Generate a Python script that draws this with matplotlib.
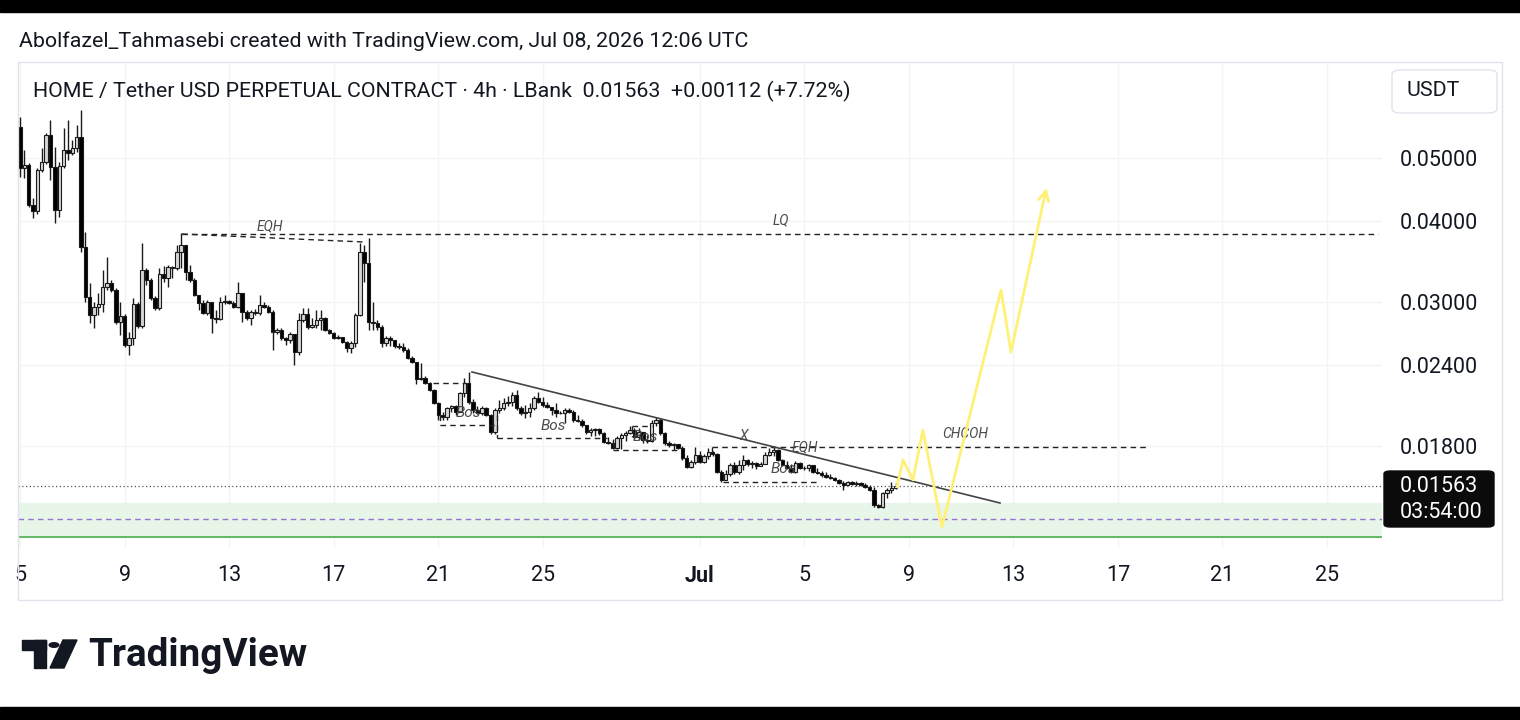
import numpy as np
import matplotlib
matplotlib.use("Agg")
import matplotlib.pyplot as plt
from matplotlib.patches import Rectangle, FancyBboxPatch, Circle, Polygon
from matplotlib.ticker import NullLocator

plt.rcParams['font.family'] = ['Roboto', 'DejaVu Sans']

# ---- data: 4h candles, HOME/USDT perp, starting Jun 5 00:00 ----
first_open = 0.05581
closes = [
    0.04826, 0.04878, 0.04234, 0.04145, 0.04792, 0.04930, 0.05425, 0.04843, 0.04159, 0.04860,
    0.05143, 0.05089, 0.05180, 0.05386, 0.03649, 0.03057, 0.02868, 0.02950, 0.02982, 0.03166,
    0.03212, 0.03133, 0.02798, 0.02858, 0.02578, 0.02643, 0.02982, 0.02759, 0.03363, 0.03246,
    0.03046, 0.02940, 0.03316, 0.03269, 0.03399, 0.03387, 0.03585, 0.03675, 0.03339, 0.03246,
    0.03078, 0.02993, 0.02888, 0.03000, 0.02838, 0.02828, 0.03000, 0.03014, 0.02993, 0.02950,
    0.03100, 0.02899, 0.02838, 0.02899, 0.02888, 0.02971, 0.02950, 0.02899, 0.02700, 0.02720,
    0.02643, 0.02624, 0.02681, 0.02515, 0.02818, 0.02878, 0.02749, 0.02768, 0.02818, 0.02838,
    0.02720, 0.02691, 0.02643, 0.02652, 0.02606, 0.02551, 0.02597, 0.02868, 0.03585, 0.03447,
    0.02798, 0.02788, 0.02749, 0.02597, 0.02643, 0.02624, 0.02569, 0.02560, 0.02533, 0.02463,
    0.02428, 0.02286, 0.02294, 0.02254, 0.02198, 0.02099, 0.02012, 0.01998, 0.02063, 0.02078,
    0.02034, 0.02175, 0.02254, 0.02107, 0.02048, 0.02027, 0.02063, 0.02012, 0.01895, 0.02048,
    0.02063, 0.02099, 0.02107, 0.02160, 0.02063, 0.02027, 0.02034, 0.02063, 0.02137, 0.02107,
    0.02085, 0.02070, 0.02048, 0.02027, 0.02027, 0.02048, 0.02034, 0.01977, 0.01970, 0.01942,
    0.01895, 0.01908, 0.01915, 0.01888, 0.01829, 0.01822, 0.01791, 0.01855, 0.01875, 0.01888,
    0.01908, 0.01862, 0.01895, 0.01842, 0.01835, 0.01956, 0.01977, 0.01888, 0.01822, 0.01809,
    0.01816, 0.01791, 0.01728, 0.01674, 0.01704, 0.01747, 0.01704, 0.01741, 0.01766, 0.01753,
    0.01644, 0.01599, 0.01632, 0.01686, 0.01644, 0.01686, 0.01716, 0.01692, 0.01698, 0.01680,
    0.01692, 0.01747, 0.01766, 0.01778, 0.01716, 0.01686, 0.01668, 0.01644, 0.01698, 0.01668,
    0.01668, 0.01686, 0.01644, 0.01638, 0.01627, 0.01615, 0.01610, 0.01599, 0.01582, 0.01571,
    0.01588, 0.01576, 0.01582, 0.01571, 0.01560, 0.01543, 0.01463, 0.01453, 0.01527, 0.01543,
    0.01554, 0.01563,
]
highs = [
    0.05781, 0.05143, 0.04912, 0.04340, 0.04826, 0.05180, 0.05463, 0.05720, 0.05198, 0.04930,
    0.05561, 0.05720, 0.05329, 0.05620, 0.05927, 0.03847, 0.03212, 0.03000, 0.03100, 0.03363,
    0.03521, 0.03246, 0.03155, 0.03000, 0.02878, 0.02700, 0.03046, 0.03000, 0.03701, 0.03387,
    0.03269, 0.03067, 0.03387, 0.03411, 0.03423, 0.03411, 0.03675, 0.03833, 0.03675, 0.03423,
    0.03269, 0.03078, 0.03024, 0.03024, 0.03000, 0.02919, 0.03057, 0.03078, 0.03024, 0.03014,
    0.03223, 0.03100, 0.02919, 0.02919, 0.02930, 0.03078, 0.03000, 0.02971, 0.02919, 0.02739,
    0.02739, 0.02652, 0.02700, 0.02681, 0.02888, 0.02940, 0.02940, 0.02838, 0.02919, 0.02919,
    0.02848, 0.02729, 0.02700, 0.02672, 0.02652, 0.02615, 0.02615, 0.02888, 0.03701, 0.03675,
    0.03767, 0.03000, 0.02818, 0.02768, 0.02662, 0.02662, 0.02624, 0.02597, 0.02597, 0.02551,
    0.02480, 0.02428, 0.02419, 0.02310, 0.02262, 0.02206, 0.02107, 0.02034, 0.02070, 0.02085,
    0.02085, 0.02183, 0.02294, 0.02343, 0.02129, 0.02078, 0.02078, 0.02070, 0.02019, 0.02063,
    0.02122, 0.02137, 0.02152, 0.02183, 0.02198, 0.02078, 0.02085, 0.02099, 0.02152, 0.02183,
    0.02145, 0.02107, 0.02070, 0.02099, 0.02041, 0.02063, 0.02063, 0.02048, 0.02012, 0.01984,
    0.01942, 0.01922, 0.01922, 0.01922, 0.01895, 0.01862, 0.01848, 0.01868, 0.01888, 0.01902,
    0.01936, 0.01922, 0.01922, 0.01868, 0.01875, 0.01977, 0.01998, 0.01991, 0.01895, 0.01835,
    0.01822, 0.01816, 0.01803, 0.01747, 0.01716, 0.01797, 0.01772, 0.01753, 0.01791, 0.01772,
    0.01759, 0.01656, 0.01656, 0.01698, 0.01704, 0.01716, 0.01747, 0.01722, 0.01710, 0.01704,
    0.01704, 0.01766, 0.01791, 0.01803, 0.01785, 0.01722, 0.01710, 0.01692, 0.01710, 0.01704,
    0.01680, 0.01692, 0.01686, 0.01668, 0.01650, 0.01644, 0.01632, 0.01615, 0.01604, 0.01593,
    0.01593, 0.01593, 0.01593, 0.01588, 0.01582, 0.01571, 0.01560, 0.01468, 0.01532, 0.01554,
    0.01588, 0.01582,
]
lows = [
    0.04675, 0.04658, 0.04204, 0.04043, 0.04101, 0.04758, 0.04895, 0.04625, 0.03972, 0.04058,
    0.04826, 0.04965, 0.05053, 0.05107, 0.03585, 0.03000, 0.02788, 0.02739, 0.02868, 0.02899,
    0.03133, 0.03111, 0.02778, 0.02672, 0.02560, 0.02488, 0.02578, 0.02739, 0.02739, 0.03189,
    0.03024, 0.02919, 0.02919, 0.03223, 0.03166, 0.03269, 0.03363, 0.03387, 0.03246, 0.03223,
    0.03067, 0.02919, 0.02878, 0.02868, 0.02691, 0.02788, 0.02818, 0.02982, 0.02982, 0.02940,
    0.02940, 0.02798, 0.02818, 0.02768, 0.02868, 0.02868, 0.02940, 0.02888, 0.02533, 0.02681,
    0.02624, 0.02578, 0.02597, 0.02402, 0.02488, 0.02798, 0.02729, 0.02739, 0.02739, 0.02720,
    0.02710, 0.02681, 0.02634, 0.02634, 0.02597, 0.02515, 0.02506, 0.02560, 0.02858, 0.03223,
    0.02720, 0.02720, 0.02720, 0.02560, 0.02569, 0.02569, 0.02551, 0.02542, 0.02515, 0.02454,
    0.02419, 0.02246, 0.02278, 0.02246, 0.02190, 0.02092, 0.01977, 0.01977, 0.01977, 0.02034,
    0.02012, 0.02034, 0.02145, 0.02092, 0.02027, 0.02019, 0.02012, 0.02005, 0.01881, 0.01881,
    0.02027, 0.02048, 0.02078, 0.02078, 0.02048, 0.02012, 0.01991, 0.01998, 0.02048, 0.02099,
    0.02070, 0.02063, 0.02012, 0.01998, 0.02019, 0.01956, 0.02027, 0.01963, 0.01963, 0.01929,
    0.01881, 0.01868, 0.01868, 0.01875, 0.01822, 0.01816, 0.01785, 0.01785, 0.01785, 0.01835,
    0.01881, 0.01848, 0.01842, 0.01822, 0.01822, 0.01829, 0.01936, 0.01875, 0.01809, 0.01797,
    0.01778, 0.01785, 0.01716, 0.01668, 0.01668, 0.01692, 0.01698, 0.01698, 0.01722, 0.01741,
    0.01638, 0.01588, 0.01599, 0.01621, 0.01632, 0.01632, 0.01656, 0.01680, 0.01668, 0.01662,
    0.01680, 0.01704, 0.01741, 0.01741, 0.01710, 0.01680, 0.01662, 0.01638, 0.01638, 0.01662,
    0.01656, 0.01650, 0.01638, 0.01632, 0.01615, 0.01610, 0.01604, 0.01593, 0.01576, 0.01543,
    0.01576, 0.01571, 0.01565, 0.01565, 0.01554, 0.01538, 0.01453, 0.01448, 0.01448, 0.01500,
    0.01527, 0.01549,
]

# x axis is "days since Jun 1"
tick_days = [4, 8, 12, 16, 20, 24, 30, 34, 38, 42, 46, 50, 54]
tick_labels = ['5', '9', '13', '17', '21', '25', 'Jul', '5', '9', '13', '17', '21', '25']
price_ticks = [0.05, 0.04, 0.03, 0.024, 0.018]
price_labels = ['0.05000', '0.04000', '0.03000', '0.02400', '0.01800']

# drawings (day, price)
lq_price = 0.0382
lq_days = [10.2, 55.95]
eqh1_days = [10.2, 17.12]
eqh1_prices = [0.0382, 0.03714]
trend_days = [21.29, 41.49]
trend_prices = [0.02343, 0.01473]
eqh2_days = [30.47, 47.15]
eqh2_price = 0.01797
bos_segments = [
    ([19.80, 21.05], [0.02254, 0.02254]),
    ([20.07, 22.17], [0.01942, 0.01942]),
    ([20.07, 20.07], [0.02012, 0.01942]),
    ([22.25, 26.46], [0.01855, 0.01855]),
    ([22.25, 22.25], [0.02012, 0.01855]),
    ([26.69, 29.17], [0.01778, 0.01778]),
    ([26.69, 26.69], [0.01829, 0.01778]),
    ([27.41, 28.18], [0.01936, 0.01936]),
    ([27.41, 27.41], [0.01936, 0.01862]),
    ([30.89, 34.49], [0.01588, 0.01588]),
    ([30.89, 30.89], [0.01627, 0.01588]),
    ([30.47, 30.47], [0.01797, 0.01747]),
]
labels = [
    ('EQH', 13.56, 0.0393), ('LQ', 33.11, 0.04014), ('Bos', 21.14, 0.02027),
    ('Bos', 24.39, 0.01936), ('Bos', 27.91, 0.01862), ('X', 31.66, 0.01868),
    ('EQH', 34.03, 0.01797), ('Bos', 33.19, 0.01662), ('CHCOH', 40.15, 0.01881),
]
path_days = [37.55, 37.78, 38.16, 38.54, 39.27, 41.53, 41.91, 43.29]
path_prices = [0.01560, 0.01716, 0.01599, 0.01908, 0.01353, 0.03133, 0.02515, 0.04544]
zone_low, zone_high = 0.01305, 0.01473
purple_level = 0.01392
last_price = 0.01563

W, H = 1520, 720


def fx(x):
    return x / W


def fy(y):
    return 1 - y / H


fig = plt.figure(figsize=(15.2, 7.2), dpi=100)
fig.patch.set_facecolor('white')

ax = fig.add_axes([fx(18), fy(548), (1382 - 18) / W, (548 - 62) / H])
ax.set_yscale('log')
ax.set_xlim(3.9235, 56.104)
ax.set_ylim(0.012559, 0.07026)
for s in ax.spines.values():
    s.set_visible(False)

ax.set_xticks(tick_days)
ax.set_xticklabels(tick_labels, fontsize=15.5, color='#131722')
ax.get_xticklabels()[6].set_fontweight('bold')
ax.tick_params(axis='x', length=0, pad=12.5)
ax.yaxis.tick_right()
ax.set_yticks(price_ticks)
ax.set_yticklabels(price_labels, fontsize=15.5, color='#131722')
ax.yaxis.set_minor_locator(NullLocator())
ax.tick_params(axis='y', length=0, pad=13)
ax.grid(True, color='#f3f4f6', lw=1)
ax.set_axisbelow(True)

# candles
c = np.array(closes)
hi = np.array(highs)
lo = np.array(lows)
o = np.r_[first_open, c[:-1]]
hi = np.maximum(hi, np.maximum(o, c))
lo = np.minimum(lo, np.minimum(o, c))
x = 4 + np.arange(len(c)) / 6
up = c >= o
ax.vlines(x, lo, hi, color='#1a1a1a', lw=1.0, zorder=3)
ax.bar(x, np.abs(c - o), bottom=np.minimum(o, c), width=0.13,
       color=np.where(up, '#d6d6d6', '#000000'), edgecolor='#1a1a1a', lw=0.8, zorder=4)

# zones and levels
ax.axhspan(zone_low, zone_high, color='#e8f5e9', zorder=1)
ax.axhline(zone_low, color='#4caf50', lw=1.2, zorder=2)
ax.axhline(purple_level, color='#9575cd', lw=1, ls=(0, (4, 3)), zorder=2)
ax.axhline(last_price, color='#555555', lw=0.9, ls=(0, (1, 2)), zorder=2)

dash = dict(color='#222222', lw=1, ls=(0, (4, 3)), zorder=5)
ax.plot(lq_days, [lq_price, lq_price], **dash)
ax.plot(eqh1_days, eqh1_prices, **dash)
ax.plot(eqh2_days, [eqh2_price, eqh2_price], **dash)
for d, p in bos_segments:
    ax.plot(d, p, **dash)
ax.plot(trend_days, trend_prices, color='#444444', lw=1.2, zorder=5)

for txt, d, p in labels:
    ax.text(d, p, txt, fontsize=11 if txt == 'Bos' else 10, style='italic',
            color='#4a4a4a', ha='center', va='center', zorder=6)

ax.plot(path_days[:-1], path_prices[:-1], color='#fff176', lw=2, zorder=6)
ax.annotate('', xy=(path_days[-1], path_prices[-1]), xytext=(path_days[-2], path_prices[-2]),
            arrowprops=dict(arrowstyle='->', color='#fff176', lw=2, mutation_scale=18), zorder=6)

# frame, header, price scale widgets
fig.add_artist(Rectangle((0, fy(12)), 1, 12 / H, transform=fig.transFigure, color='black'))
fig.add_artist(Rectangle((0, 0), 1, 13 / H, transform=fig.transFigure, color='black'))
fig.add_artist(Rectangle((fx(18), fy(600)), (1502 - 18) / W, (600 - 62) / H,
                         transform=fig.transFigure, fill=False, ec='#e0e3eb', lw=1))
fig.text(fx(19), fy(41), 'Abolfazel_Tahmasebi created with TradingView.com, Jul 08, 2026 12:06 UTC',
         fontsize=15.4, color='#131722', va='center')
fig.text(fx(33), fy(91), 'HOME / Tether USD PERPETUAL CONTRACT · 4h · LBank  0.01563  +0.00112 (+7.72%)',
         fontsize=15.4, color='#131722', va='center')
fig.add_artist(FancyBboxPatch((fx(1392), fy(113)), 105 / W, 43 / H, boxstyle='round,pad=0,rounding_size=0.006',
                              transform=fig.transFigure, fc='white', ec='#e0e3eb', lw=1))
fig.text(fx(1407), fy(91), 'USDT', fontsize=15.4, color='#131722', va='center')
fig.add_artist(FancyBboxPatch((fx(1384), fy(527)), 110 / W, 56 / H, boxstyle='round,pad=0,rounding_size=0.004',
                              transform=fig.transFigure, fc='#0b0b0b', ec='#0b0b0b'))
fig.text(fx(1400), fy(487), '0.01563', fontsize=15.5, color='white', va='center')
fig.text(fx(1400), fy(513), '03:54:00', fontsize=15.5, color='white', va='center')

# TradingView logo
fig.add_artist(Rectangle((fx(22), fy(650)), 24 / W, 10 / H, transform=fig.transFigure, color='#131722'))
fig.add_artist(Rectangle((fx(34), fy(668)), 12 / W, 28 / H, transform=fig.transFigure, color='#131722'))
fig.add_artist(Circle((fx(54), fy(645)), 4.8 / W, transform=fig.transFigure, color='#131722'))
fig.add_artist(Polygon([(fx(63), fy(640)), (fx(77), fy(640)), (fx(64), fy(668)), (fx(50), fy(668))],
                       closed=True, transform=fig.transFigure, color='#131722'))
fig.text(fx(88), fy(655), 'TradingView', fontsize=27.8, fontweight='bold', color='#131722', va='center')

fig.savefig('out.png', dpi=100)
